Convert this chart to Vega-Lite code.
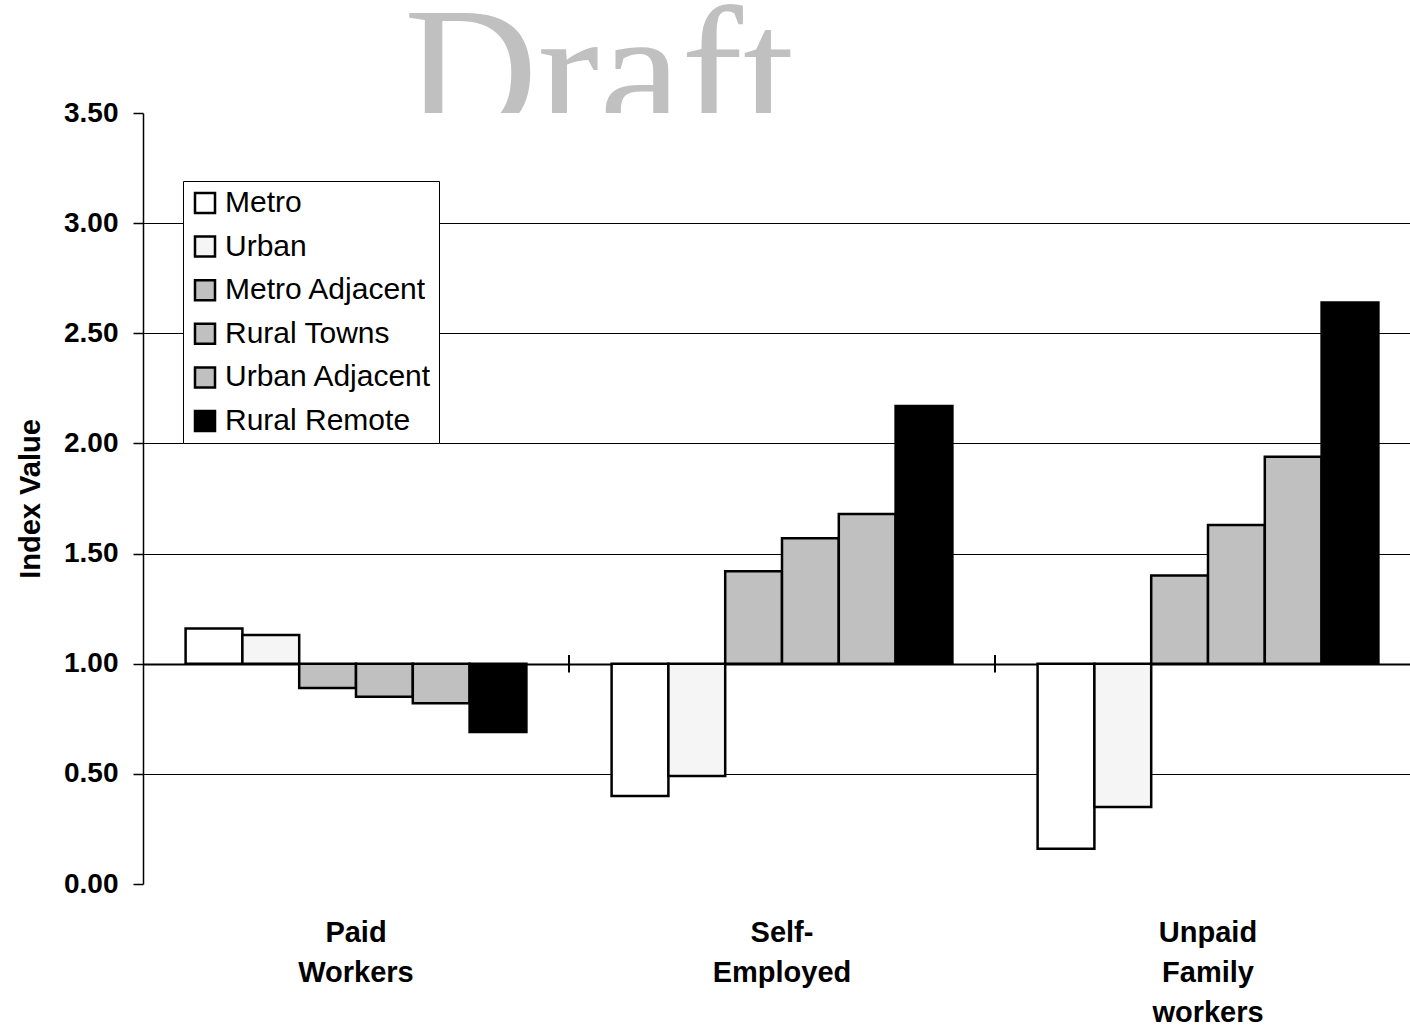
{
  "$schema": "https://vega.github.io/schema/vega-lite/v6.json",
  "padding": {"left": 16, "top": 0, "right": 0, "bottom": 0},
  "background": "white",
  "config": {"view": {"stroke": null}, "font": "Liberation Sans"},
  "spacing": 0,
  "bounds": "flush",
  "vconcat": [
    {
      "width": 1267,
      "height": 113,
      "data": {"values": [{"word": "Draft"}]},
      "mark": {"type": "text", "clip": true, "font": "Liberation Serif", "fontSize": 185, "color": "#c0c0c0", "align": "center", "baseline": "alphabetic"},
      "encoding": {
        "x": {"datum": 0.36, "type": "quantitative", "scale": {"domain": [0, 1]}, "axis": null},
        "y": {"datum": -0.19, "type": "quantitative", "scale": {"domain": [0, 1]}, "axis": null},
        "text": {"field": "word"}
      }
    },
    {
      "width": 1267,
      "height": 771,
      "layer": [
        {
          "data": {"values": [
            {"cat": "Paid Workers", "region": "Metro", "value": 1.16},
            {"cat": "Paid Workers", "region": "Urban", "value": 1.13},
            {"cat": "Paid Workers", "region": "Metro Adjacent", "value": 0.89},
            {"cat": "Paid Workers", "region": "Rural Towns", "value": 0.85},
            {"cat": "Paid Workers", "region": "Urban Adjacent", "value": 0.82},
            {"cat": "Paid Workers", "region": "Rural Remote", "value": 0.69},
            {"cat": "Self-Employed", "region": "Metro", "value": 0.40},
            {"cat": "Self-Employed", "region": "Urban", "value": 0.49},
            {"cat": "Self-Employed", "region": "Metro Adjacent", "value": 1.42},
            {"cat": "Self-Employed", "region": "Rural Towns", "value": 1.57},
            {"cat": "Self-Employed", "region": "Urban Adjacent", "value": 1.68},
            {"cat": "Self-Employed", "region": "Rural Remote", "value": 2.17},
            {"cat": "Unpaid Family workers", "region": "Metro", "value": 0.16},
            {"cat": "Unpaid Family workers", "region": "Urban", "value": 0.35},
            {"cat": "Unpaid Family workers", "region": "Metro Adjacent", "value": 1.40},
            {"cat": "Unpaid Family workers", "region": "Rural Towns", "value": 1.63},
            {"cat": "Unpaid Family workers", "region": "Urban Adjacent", "value": 1.94},
            {"cat": "Unpaid Family workers", "region": "Rural Remote", "value": 2.64}
          ]},
          "mark": {"type": "bar", "stroke": "black", "strokeWidth": 2.5, "opacity": 1},
          "encoding": {
            "x": {
              "field": "cat", "type": "nominal",
              "scale": {"domain": ["Paid Workers", "Self-Employed", "Unpaid Family workers"], "range": [0, 1278], "paddingInner": 0.2, "paddingOuter": 0.1},
              "axis": {
                "title": null, "domain": false, "ticks": false, "tickSize": 0, "labelAngle": 0,
                "labelFontSize": 29, "labelFontWeight": "bold", "labelColor": "black",
                "labelPadding": 34, "labelLineHeight": 40, "labelLimit": 0,
                "labelExpr": "datum.value == 'Self-Employed' ? ['Self-', 'Employed'] : split(datum.value, ' ')"
              }
            },
            "xOffset": {
              "field": "region", "type": "nominal",
              "scale": {"domain": ["Metro", "Urban", "Metro Adjacent", "Rural Towns", "Urban Adjacent", "Rural Remote"], "paddingInner": 0, "paddingOuter": 0}
            },
            "y": {
              "field": "value", "type": "quantitative",
              "scale": {"domain": [0, 3.5], "nice": false, "zero": true},
              "axis": {
                "title": "Index Value", "titleFontSize": 29, "titleFontWeight": "bold", "titleColor": "black", "titlePadding": 18,
                "labelFontSize": 28, "labelFontWeight": "bold", "labelColor": "black", "labelPadding": 15,
                "tickSize": 10, "tickColor": "black", "tickWidth": 1.5,
                "domainColor": "black", "domainWidth": 1.5,
                "format": ".2f", "values": [0, 0.5, 1, 1.5, 2, 2.5, 3, 3.5],
                "grid": true, "gridColor": "black",
                "gridWidth": {"condition": {"test": "datum.value == 1", "value": 2}, "value": 1},
                "gridOpacity": {"condition": {"test": "datum.value <= 0 || datum.value >= 3.5", "value": 0}, "value": 1}
              }
            },
            "y2": {"datum": 1},
            "color": {
              "field": "region", "type": "nominal",
              "scale": {"domain": ["Metro", "Urban", "Metro Adjacent", "Rural Towns", "Urban Adjacent", "Rural Remote"], "range": ["#ffffff", "#f5f5f5", "#c0c0c0", "#c0c0c0", "#c0c0c0", "#000000"]},
              "legend": {
                "orient": "none", "legendX": 40, "legendY": 181, "title": null,
                "fillColor": "white", "strokeColor": "black", "padding": 7,
                "symbolType": "square", "symbolSize": 400, "symbolStrokeColor": "black", "symbolStrokeWidth": 2.5, "symbolOpacity": 1,
                "labelFontSize": 30, "labelColor": "black", "labelOffset": 5, "rowPadding": 13.6, "labelLimit": 0,
                "encode": {"symbols": {"update": {"stroke": {"value": "black"}, "strokeWidth": {"value": 2.5}}}}
              }
            }
          }
        },
        {
          "data": {"values": [{"cat": "Self-Employed"}, {"cat": "Unpaid Family workers"}]},
          "mark": {"type": "rule", "color": "black", "strokeWidth": 2},
          "encoding": {
            "x": {"field": "cat", "type": "nominal", "bandPosition": -0.125},
            "y": {"datum": 0.96},
            "y2": {"datum": 1.04}
          }
        }
      ]
    }
  ]
}
